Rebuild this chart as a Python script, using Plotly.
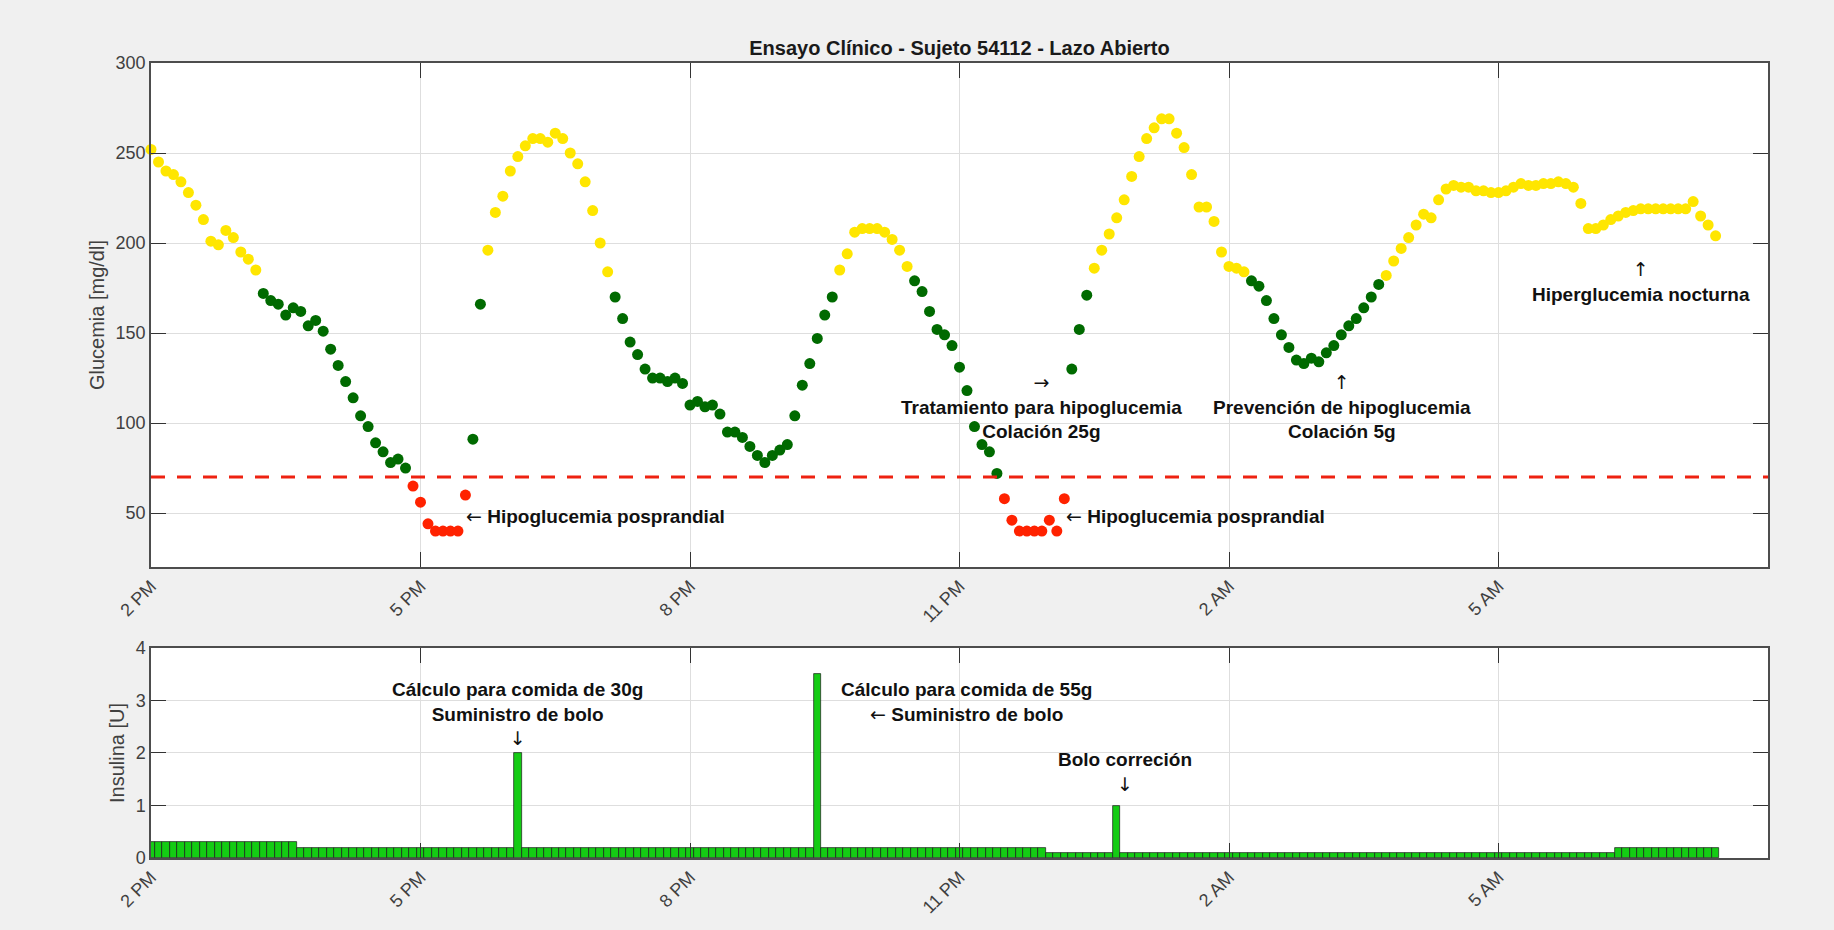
import pandas as pd
import plotly.graph_objects as go

# --- Data -----------------------------------------------------------------
START = pd.Timestamp("2019-05-14 14:00")
SAMPLE_MIN = 5  # CGM / pump sampling period (minutes)

glucose_mgdl = [
    252, 245, 240, 238, 234, 228, 221, 213, 201, 199,
    207, 203, 195, 191, 185, 172, 168, 166, 160, 164,
    162, 154, 157, 151, 141, 132, 123, 114, 104, 98,
    89, 84, 78, 80, 75, 65, 56, 44, 40, 40,
    40, 40, 60, 91, 166, 196, 217, 226, 240, 248,
    254, 258, 258, 256, 261, 258, 250, 244, 234, 218,
    200, 184, 170, 158, 145, 138, 130, 125, 125, 123,
    125, 122, 110, 112, 109, 110, 105, 95, 95, 92,
    87, 82, 78, 82, 85, 88, 104, 121, 133, 147,
    160, 170, 185, 194, 206, 208, 208, 208, 206, 202,
    196, 187, 179, 173, 162, 152, 149, 143, 131, 118,
    98, 88, 84, 72, 58, 46, 40, 40, 40, 40,
    46, 40, 58, 130, 152, 171, 186, 196, 205, 214,
    224, 237, 248, 258, 264, 269, 269, 261, 253, 238,
    220, 220, 212, 195, 187, 186, 184, 179, 176, 168,
    158, 149, 142, 135, 133, 136, 134, 139, 143, 149,
    154, 158, 164, 170, 177, 182, 190, 197, 203, 210,
    216, 214, 224, 230, 232, 231, 231, 229, 229, 228,
    228, 229, 231, 233, 232, 232, 233, 233, 234, 233,
    231, 222, 208, 208, 210, 213, 215, 217, 218, 219,
    219, 219, 219, 219, 219, 219, 223, 215, 210, 204,
]

insulin_u = [
    0.3, 0.3, 0.3, 0.3, 0.3, 0.3, 0.3, 0.3, 0.3, 0.3,
    0.3, 0.3, 0.3, 0.3, 0.3, 0.3, 0.3, 0.3, 0.3, 0.3,
    0.2, 0.2, 0.2, 0.2, 0.2, 0.2, 0.2, 0.2, 0.2, 0.2,
    0.2, 0.2, 0.2, 0.2, 0.2, 0.2, 0.2, 0.2, 0.2, 0.2,
    0.2, 0.2, 0.2, 0.2, 0.2, 0.2, 0.2, 0.2, 0.2, 2.0,
    0.2, 0.2, 0.2, 0.2, 0.2, 0.2, 0.2, 0.2, 0.2, 0.2,
    0.2, 0.2, 0.2, 0.2, 0.2, 0.2, 0.2, 0.2, 0.2, 0.2,
    0.2, 0.2, 0.2, 0.2, 0.2, 0.2, 0.2, 0.2, 0.2, 0.2,
    0.2, 0.2, 0.2, 0.2, 0.2, 0.2, 0.2, 0.2, 0.2, 3.5,
    0.2, 0.2, 0.2, 0.2, 0.2, 0.2, 0.2, 0.2, 0.2, 0.2,
    0.2, 0.2, 0.2, 0.2, 0.2, 0.2, 0.2, 0.2, 0.2, 0.2,
    0.2, 0.2, 0.2, 0.2, 0.2, 0.2, 0.2, 0.2, 0.2, 0.2,
    0.1, 0.1, 0.1, 0.1, 0.1, 0.1, 0.1, 0.1, 0.1, 1.0,
    0.1, 0.1, 0.1, 0.1, 0.1, 0.1, 0.1, 0.1, 0.1, 0.1,
    0.1, 0.1, 0.1, 0.1, 0.1, 0.1, 0.1, 0.1, 0.1, 0.1,
    0.1, 0.1, 0.1, 0.1, 0.1, 0.1, 0.1, 0.1, 0.1, 0.1,
    0.1, 0.1, 0.1, 0.1, 0.1, 0.1, 0.1, 0.1, 0.1, 0.1,
    0.1, 0.1, 0.1, 0.1, 0.1, 0.1, 0.1, 0.1, 0.1, 0.1,
    0.1, 0.1, 0.1, 0.1, 0.1, 0.1, 0.1, 0.1, 0.1, 0.1,
    0.1, 0.1, 0.1, 0.1, 0.1, 0.1, 0.2, 0.2, 0.2, 0.2,
    0.2, 0.2, 0.2, 0.2, 0.2, 0.2, 0.2, 0.2, 0.2, 0.2,
]

tick_offsets_h = [0, 3, 6, 9, 12, 15]
tick_labels = ["2 PM", "5 PM", "8 PM", "11 PM", "2 AM", "5 AM"]
window_h = 18

HYPO_LIMIT = 70
HYPER_LIMIT = 180

# --- Helpers ---------------------------------------------------------------
times = pd.date_range(START, periods=len(glucose_mgdl), freq=f"{SAMPLE_MIN}min")


def at_sample(k):
    """Time stamp of (possibly fractional) sample index k."""
    return START + pd.Timedelta(minutes=SAMPLE_MIN * k)


tick_times = [START + pd.Timedelta(hours=h) for h in tick_offsets_h]
x_range = [START, START + pd.Timedelta(hours=window_h)]

FONT = "Liberation Sans, Arial, Helvetica, sans-serif"
ARROW_FONT = "DejaVu Sans"
GRID = "#DEDEDE"
AXIS = "#4D4D4D"
TICKTXT = "#404040"


def arrow(ch):
    """Thin arrow glyph in a font that carries the arrow block."""
    return (f"<span style='font-family:{ARROW_FONT};font-weight:normal;'>"
            f"{ch}</span>")


LEFT, RIGHT, UP, DOWN = arrow("←"), arrow("→"), arrow("↑"), arrow("↓")

# --- Figure ----------------------------------------------------------------
fig = go.Figure()

bands = [
    ("Hiperglucemia", "#FFE600", lambda v: v > HYPER_LIMIT),
    ("Normoglucemia", "#006A00", lambda v: HYPO_LIMIT <= v <= HYPER_LIMIT),
    ("Hipoglucemia", "#FF2200", lambda v: v < HYPO_LIMIT),
]
for name, color, test in bands:
    xs = [t for t, v in zip(times, glucose_mgdl) if test(v)]
    ys = [v for v in glucose_mgdl if test(v)]
    fig.add_trace(go.Scatter(
        x=xs, y=ys, mode="markers", name=name,
        marker=dict(size=11, color=color, line=dict(width=0)),
        cliponaxis=False, xaxis="x", yaxis="y",
    ))

fig.add_trace(go.Bar(
    x=times, y=insulin_u, name="Insulina",
    width=SAMPLE_MIN * 60 * 1000,
    marker=dict(color="#14CC14", line=dict(color="#1A1A1A", width=0.7)),
    xaxis="x2", yaxis="y2",
))

# hypoglycaemia threshold
fig.add_shape(type="line", xref="x domain", yref="y", x0=0, x1=1,
              y0=HYPO_LIMIT, y1=HYPO_LIMIT,
              line=dict(color="#EE2211", width=3, dash="14px,12px"))

axis_common = dict(
    showline=True, linecolor=AXIS, linewidth=1.5, mirror="allticks",
    ticks="inside", ticklen=15, tickcolor="#333333", tickwidth=1,
    showgrid=True, gridcolor=GRID, gridwidth=1, zeroline=False,
    tickfont=dict(family=FONT, size=18, color=TICKTXT),
)
x_common = dict(axis_common, type="date", range=x_range,
                tickmode="array", tickvals=tick_times, ticktext=tick_labels,
                tickangle=-45)

fig.update_layout(
    width=1834, height=930,
    paper_bgcolor="#F0F0F0", plot_bgcolor="white",
    margin=dict(l=151, r=66, t=63, b=72),
    showlegend=False, bargap=0,
    font=dict(family=FONT, color="#262626"),
    title=dict(text="<b>Ensayo Clínico - Sujeto 54112 - Lazo Abierto</b>",
               x=0.5, xref="paper", xanchor="center",
               y=1 - 48 / 930, yref="container", yanchor="middle",
               font=dict(family=FONT, size=20, color="#1A1A1A")),
    xaxis=dict(x_common, domain=[0, 1], anchor="y"),
    yaxis=dict(axis_common, domain=[0.366, 1.0], anchor="x",
               range=[20, 300], tick0=0, dtick=50,
               title=dict(text="Glucemia [mg/dl]", standoff=6,
                          font=dict(family=FONT, size=20, color=TICKTXT))),
    xaxis2=dict(x_common, domain=[0, 1], anchor="y2"),
    yaxis2=dict(axis_common, domain=[0.0, 0.2642], anchor="x2",
                range=[0, 4], tick0=0, dtick=1,
                title=dict(text="Insulina [U]", standoff=6,
                           font=dict(family=FONT, size=20, color=TICKTXT))),
)

# --- Event notes ----------------------------------------------------------
top_notes = [
    (f"{LEFT} Hipoglucemia posprandial", 41.8, 48.5, "left"),
    (f"{LEFT} Hipoglucemia posprandial", 121.9, 48.5, "left"),
    (f"{RIGHT}<br>Tratamiento para hipoglucemia<br>Colación 25g", 118.9, 109.1, "center"),
    (f"{UP}<br>Prevención de hipoglucemia<br>Colación 5g", 159.1, 109.1, "center"),
    (f"{UP}<br>Hiperglucemia nocturna", 199.0, 178.7, "center"),
]
bottom_notes = [
    (f"Cálculo para comida de 30g<br>Suministro de bolo<br>{DOWN}", 48.9, 2.75, "center"),
    (f"Cálculo para comida de 55g<br>{LEFT} Suministro de bolo", 109.0, 2.98, "center"),
    (f"Bolo correción<br>{DOWN}", 130.1, 1.64, "center"),
]
for notes, xr, yr in ((top_notes, "x", "y"), (bottom_notes, "x2", "y2")):
    for text, k, yv, anchor in notes:
        fig.add_annotation(
            x=at_sample(k), y=yv, xref=xr, yref=yr, text=f"<b>{text}</b>",
            showarrow=False, xanchor=anchor, yanchor="middle", align="center",
            font=dict(family=FONT, size=19, color="#111111"),
        )

fig.write_html("out.html")
